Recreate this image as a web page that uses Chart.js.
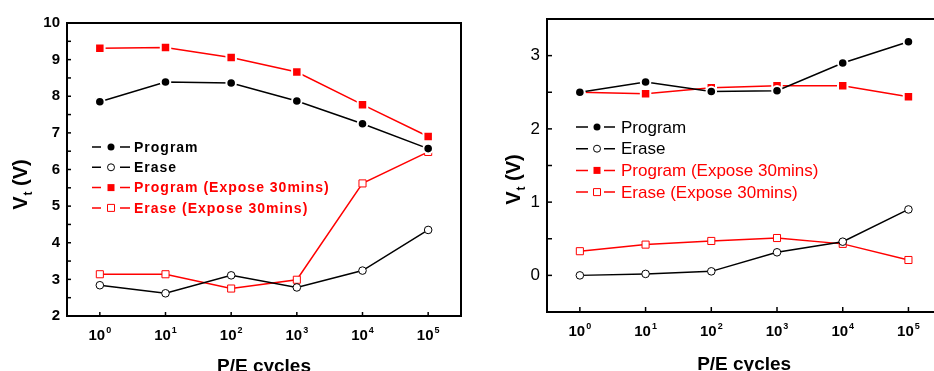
<!DOCTYPE html>
<html>
<head>
<meta charset="utf-8">
<script src="https://cdn.jsdelivr.net/npm/chart.js@4.4.0/dist/chart.umd.min.js"></script>
<style>
  html, body { margin: 0; padding: 0; background: #fff; overflow: hidden; width: 934px; height: 371px; }
  .panel { position: absolute; top: 0; }
  #left-panel { left: 0; }
  #right-panel { left: 470px; }
</style>
</head>
<body>
<div class="panel" id="left-panel"><canvas id="leftChart" width="470" height="380"></canvas></div>
<div class="panel" id="right-panel"><canvas id="rightChart" width="480" height="380"></canvas></div>
<script>
// P/E cycles (powers of ten)
const cycleExps = [0, 1, 2, 3, 4, 5];
const seriesNames = ["Program", "Erase", "Program (Expose 30mins)", "Erase (Expose 30mins)"];

// Left panel, Vt (V)
const leftProgram = [7.85, 8.39, 8.36, 7.87, 7.25, 6.57];
const leftErase = [2.84, 2.62, 3.11, 2.78, 3.24, 4.35];
const leftProgramExp = [9.31, 9.33, 9.06, 8.66, 7.77, 6.9];
const leftEraseExp = [3.14, 3.14, 2.75, 2.99, 5.62, 6.48];

// Right panel, Vt (V)
const rightProgram = [2.5, 2.64, 2.51, 2.52, 2.9, 3.19];
const rightErase = [0.0, 0.02, 0.055, 0.315, 0.46, 0.9];
const rightProgramExp = [2.5, 2.48, 2.56, 2.59, 2.59, 2.44];
const rightEraseExp = [0.33, 0.42, 0.47, 0.51, 0.43, 0.21];

const FONT = "Arial, 'Liberation Sans', sans-serif";
const cycleLabels = cycleExps.map((e) => "10^" + e);

// draw a marker like the plot markers
function drawMarker(ctx, i, x, y, size) {
  const color = i < 2 ? "#000000" : "#ff0000";
  const filled = i % 2 === 0;
  ctx.beginPath();
  if (i < 2) ctx.arc(x, y, size / 2, 0, Math.PI * 2);
  else ctx.rect(x - size / 2, y - size / 2, size, size);
  ctx.fillStyle = filled ? color : "#ffffff";
  ctx.fill();
  if (!filled) {
    ctx.lineWidth = 1;
    ctx.strokeStyle = color;
    ctx.stroke();
  }
}

// Frame, inward tick marks and 10^n tick labels
const framePlugin = {
  id: "frame",
  afterDraw(chart, args, opts) {
    const { ctx, chartArea: a } = chart;
    const xs = chart.scales.x;
    const ys = chart.scales.y;
    ctx.save();
    ctx.strokeStyle = "#000";
    ctx.lineWidth = 1.5;
    ys.ticks.forEach((t) => {
      const py = ys.getPixelForValue(t.value);
      ctx.beginPath();
      ctx.moveTo(a.left, py);
      ctx.lineTo(a.left + opts.tick, py);
      ctx.stroke();
    });
    ctx.fillStyle = "#000";
    ctx.textBaseline = "alphabetic";
    xs.ticks.forEach((t, i) => {
      const px = xs.getPixelForTick(i);
      ctx.beginPath();
      ctx.moveTo(px, a.bottom);
      ctx.lineTo(px, a.bottom - opts.tick);
      ctx.stroke();
      // label "10" with superscript exponent
      const [base, exp] = xs.getLabelForValue(t.value).split("^");
      ctx.font = "bold 15px " + FONT;
      const wb = ctx.measureText(base).width;
      ctx.font = "bold 9px " + FONT;
      const we = ctx.measureText(exp).width;
      const x0 = px - (wb + we + 1) / 2;
      ctx.font = "bold 15px " + FONT;
      ctx.fillText(base, x0, opts.labelY);
      ctx.font = "bold 9px " + FONT;
      ctx.fillText(exp, x0 + wb + 1, opts.labelY - 7);
    });
    ctx.lineWidth = 2;
    ctx.strokeRect(a.left, a.top, a.right - a.left, a.bottom - a.top);
    ctx.restore();
  }
};

// Legend inside the plot
const legendPlugin = {
  id: "seriesLegend",
  afterDraw(chart, args, o) {
    const ctx = chart.ctx;
    ctx.save();
    ctx.font = o.font;
    ctx.letterSpacing = o.spacing;
    ctx.textBaseline = "middle";
    chart.data.datasets.forEach((ds, i) => {
      const y = o.y + i * o.dy;
      const color = i < 2 ? "#000000" : "#ff0000";
      ctx.strokeStyle = color;
      ctx.lineWidth = 1.5;
      ctx.beginPath();
      ctx.moveTo(o.x0, y);
      ctx.lineTo(o.x1, y);
      ctx.moveTo(o.x2, y);
      ctx.lineTo(o.x3, y);
      ctx.stroke();
      drawMarker(ctx, i, o.mx, y, o.size);
      ctx.fillStyle = color;
      ctx.fillText(ds.label, o.tx, y + 1);
    });
    ctx.restore();
  }
};

// Rotated "Vt (V)" title with subscript
const yTitlePlugin = {
  id: "vtTitle",
  afterDraw(chart, args, o) {
    const ctx = chart.ctx;
    ctx.save();
    ctx.translate(o.x, o.y);
    ctx.rotate(-Math.PI / 2);
    ctx.fillStyle = "#000";
    ctx.textBaseline = "alphabetic";
    const big = "bold " + o.size + "px " + FONT;
    const small = "bold " + Math.round(o.size * 0.6) + "px " + FONT;
    ctx.font = big;
    const wV = ctx.measureText("V").width;
    const wRest = ctx.measureText(" (V)").width;
    ctx.font = small;
    const wt = ctx.measureText("t").width;
    const x = -(wV + wt + wRest) / 2;
    ctx.font = big;
    ctx.fillText("V", x, 0);
    ctx.font = small;
    ctx.fillText("t", x + wV + 1, 5);
    ctx.font = big;
    ctx.fillText(" (V)", x + wV + wt + 1, 0);
    ctx.restore();
  }
};

function makeDatasets(values) {
  return values.map((vals, i) => {
    const color = i < 2 ? "#000000" : "#ff0000";
    const filled = i % 2 === 0;
    const circle = i < 2;
    return {
      label: seriesNames[i],
      data: vals,
      borderColor: color,
      borderWidth: 1.5,
      pointStyle: circle ? "circle" : "rect",
      pointRadius: filled ? (circle ? 4.8 : 6.7) : (circle ? 3.8 : 5),
      pointBackgroundColor: filled ? color : "#ffffff",
      pointBorderColor: filled ? "#ffffff" : color,
      pointBorderWidth: filled ? 2 : 1,
      tension: 0
    };
  });
}

function buildChart(id, values, cfg) {
  return new Chart(document.getElementById(id), {
    type: "line",
    data: { labels: cycleLabels, datasets: makeDatasets(values) },
    options: {
      responsive: false,
      animation: false,
      devicePixelRatio: 1,
      layout: { padding: cfg.padding },
      plugins: {
        legend: { display: false },
        tooltip: { enabled: false },
        frame: { tick: cfg.tick, labelY: cfg.labelY },
        seriesLegend: cfg.legend,
        vtTitle: cfg.yTitle
      },
      scales: {
        x: {
          type: "category",
          offset: true,
          grid: { display: false, drawTicks: false },
          border: { display: false },
          ticks: { display: false },
          title: {
            display: true,
            text: "P/E cycles",
            color: "#000",
            font: { family: FONT, size: 19, weight: "bold" },
            padding: { top: 0, bottom: cfg.titlePad }
          },
          afterFit: (s) => { s.height = cfg.xHeight; }
        },
        y: {
          min: cfg.yMin,
          max: cfg.yMax,
          grid: { display: false, drawTicks: false },
          border: { display: false },
          ticks: {
            stepSize: 0.5,
            autoSkip: false,
            color: "#000",
            padding: 7,
            font: cfg.yFont,
            callback: (v) => (Number.isInteger(v) ? v : "")
          },
          afterFit: (s) => { s.width = cfg.yWidth; }
        }
      }
    },
    plugins: [framePlugin, legendPlugin, yTitlePlugin]
  });
}

buildChart("leftChart", [leftProgram, leftErase, leftProgramExp, leftEraseExp], {
  padding: { top: 23, right: 9, left: 0, bottom: 0 },
  xHeight: 64,
  yWidth: 67,
  yMin: 2,
  yMax: 10,
  tick: 4,
  labelY: 340,
  titlePad: 2,
  yFont: { family: FONT, size: 15, weight: "bold" },
  legend: { font: "bold 14px " + FONT, spacing: "1px", x0: 92, x1: 101, mx: 111, x2: 120, x3: 130, tx: 134, y: 147, dy: 20.3, size: 7 },
  yTitle: { x: 27, y: 185, size: 20 }
});

buildChart("rightChart", [rightProgram, rightErase, rightProgramExp, rightEraseExp], {
  padding: { top: 19, right: 5, left: 0, bottom: 0 },
  xHeight: 68,
  yWidth: 77,
  yMin: -0.5,
  yMax: 3.5,
  tick: 5,
  labelY: 336,
  titlePad: 4,
  yFont: { family: FONT, size: 17, weight: "normal" },
  legend: { font: "17px " + FONT, spacing: "0px", x0: 106, x1: 118, mx: 127, x2: 134, x3: 145, tx: 151, y: 127, dy: 21.7, size: 7 },
  yTitle: { x: 50, y: 180, size: 20 }
});
</script>
</body>
</html>
